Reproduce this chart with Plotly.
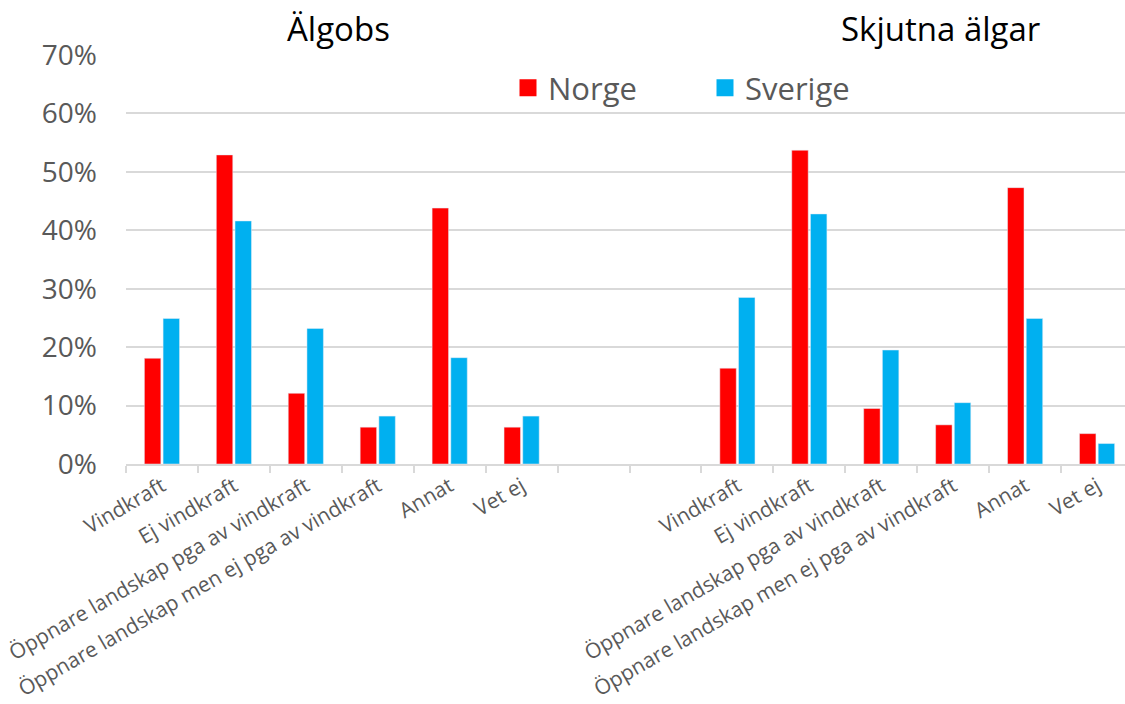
import plotly.graph_objects as go

# ---- data ----
categories = ["Vindkraft", "Ej vindkraft", "Öppnare landskap pga av vindkraft",
              "Öppnare landskap men ej pga av vindkraft", "Annat", "Vet ej"]
tick_labels = categories + ["", ""] + categories
group_titles = ["Älgobs", "Skjutna älgar"]

norge_algobs = [0.181, 0.529, 0.121, 0.063, 0.438, 0.063]
sverige_algobs = [0.249, 0.416, 0.232, 0.082, 0.182, 0.082]
norge_skjutna = [0.164, 0.537, 0.095, 0.067, 0.473, 0.052]
sverige_skjutna = [0.285, 0.428, 0.195, 0.105, 0.249, 0.035]

norge = norge_algobs + [None, None] + norge_skjutna
sverige = sverige_algobs + [None, None] + sverige_skjutna
xpos = list(range(len(tick_labels)))

RED = "#FF0000"
BLUE = "#00B0F0"
GRAY = "#595959"
GRID = "#D9D9D9"
FONT = "Open Sans"

fig = go.Figure()
fig.add_trace(go.Bar(x=xpos, y=norge, name="Norge", marker=dict(color=RED),
                     offsetgroup="n", showlegend=False))
fig.add_trace(go.Bar(x=xpos, y=sverige, name="Sverige", marker=dict(color=BLUE),
                     offsetgroup="s", showlegend=False))
# legend entries
fig.add_trace(go.Bar(x=[None], y=[None], name="Norge", offsetgroup="n",
                     marker=dict(color=RED, line=dict(color=RED, width=6))))
fig.add_trace(go.Bar(x=[None], y=[None], name="Sverige", offsetgroup="s",
                     marker=dict(color=BLUE, line=dict(color=BLUE, width=6))))

W, H = 1125, 704
ML, MT, MB = 126, 55, 240
slot = 71.93
plot_w = W - ML
x_max = -0.5 + plot_w / slot

fig.update_layout(
    width=W, height=H,
    margin=dict(l=ML, r=0, t=MT, b=MB, pad=0),
    paper_bgcolor="white", plot_bgcolor="white",
    barmode="group", bargap=0.48, bargroupgap=0.12,
    font=dict(family=FONT, color=GRAY),
    legend=dict(orientation="h", x=(508 - ML) / plot_w, xanchor="left",
                y=0.985, yanchor="top", font=dict(size=31, color=GRAY, family=FONT),
                entrywidth=152, entrywidthmode="pixels", bgcolor="rgba(0,0,0,0)",
                traceorder="normal"),
    xaxis=dict(
        range=[-0.5, x_max], tickmode="array", tickvals=xpos, ticktext=tick_labels,
        tickangle=-30, ticks="", showgrid=False, zeroline=False,
        showline=True, linecolor=GRID, linewidth=1.5,
        tickfont=dict(size=21, color=GRAY, family=FONT),
        minor=dict(tickmode="array", tickvals=[i - 0.5 for i in range(len(tick_labels) + 1)],
                   ticks="outside", ticklen=7, tickwidth=1.5, tickcolor=GRID, showgrid=False),
    ),
    yaxis=dict(
        range=[0, 0.7], tickmode="linear", tick0=0, dtick=0.1, tickformat=".0%",
        showgrid=True, gridcolor=GRID, gridwidth=1.5, zeroline=False,
        tickfont=dict(size=28, color=GRAY, family=FONT), ticks="", ticklabelstandoff=28,
    ),
)

title_x = [2.45, 10.83]
for tx, t in zip(title_x, group_titles):
    fig.add_annotation(text=t, x=tx, xref="x", y=1.065, yref="paper", yanchor="middle",
                       showarrow=False, font=dict(size=33, color="black", family=FONT))

fig.write_html("out.html")
